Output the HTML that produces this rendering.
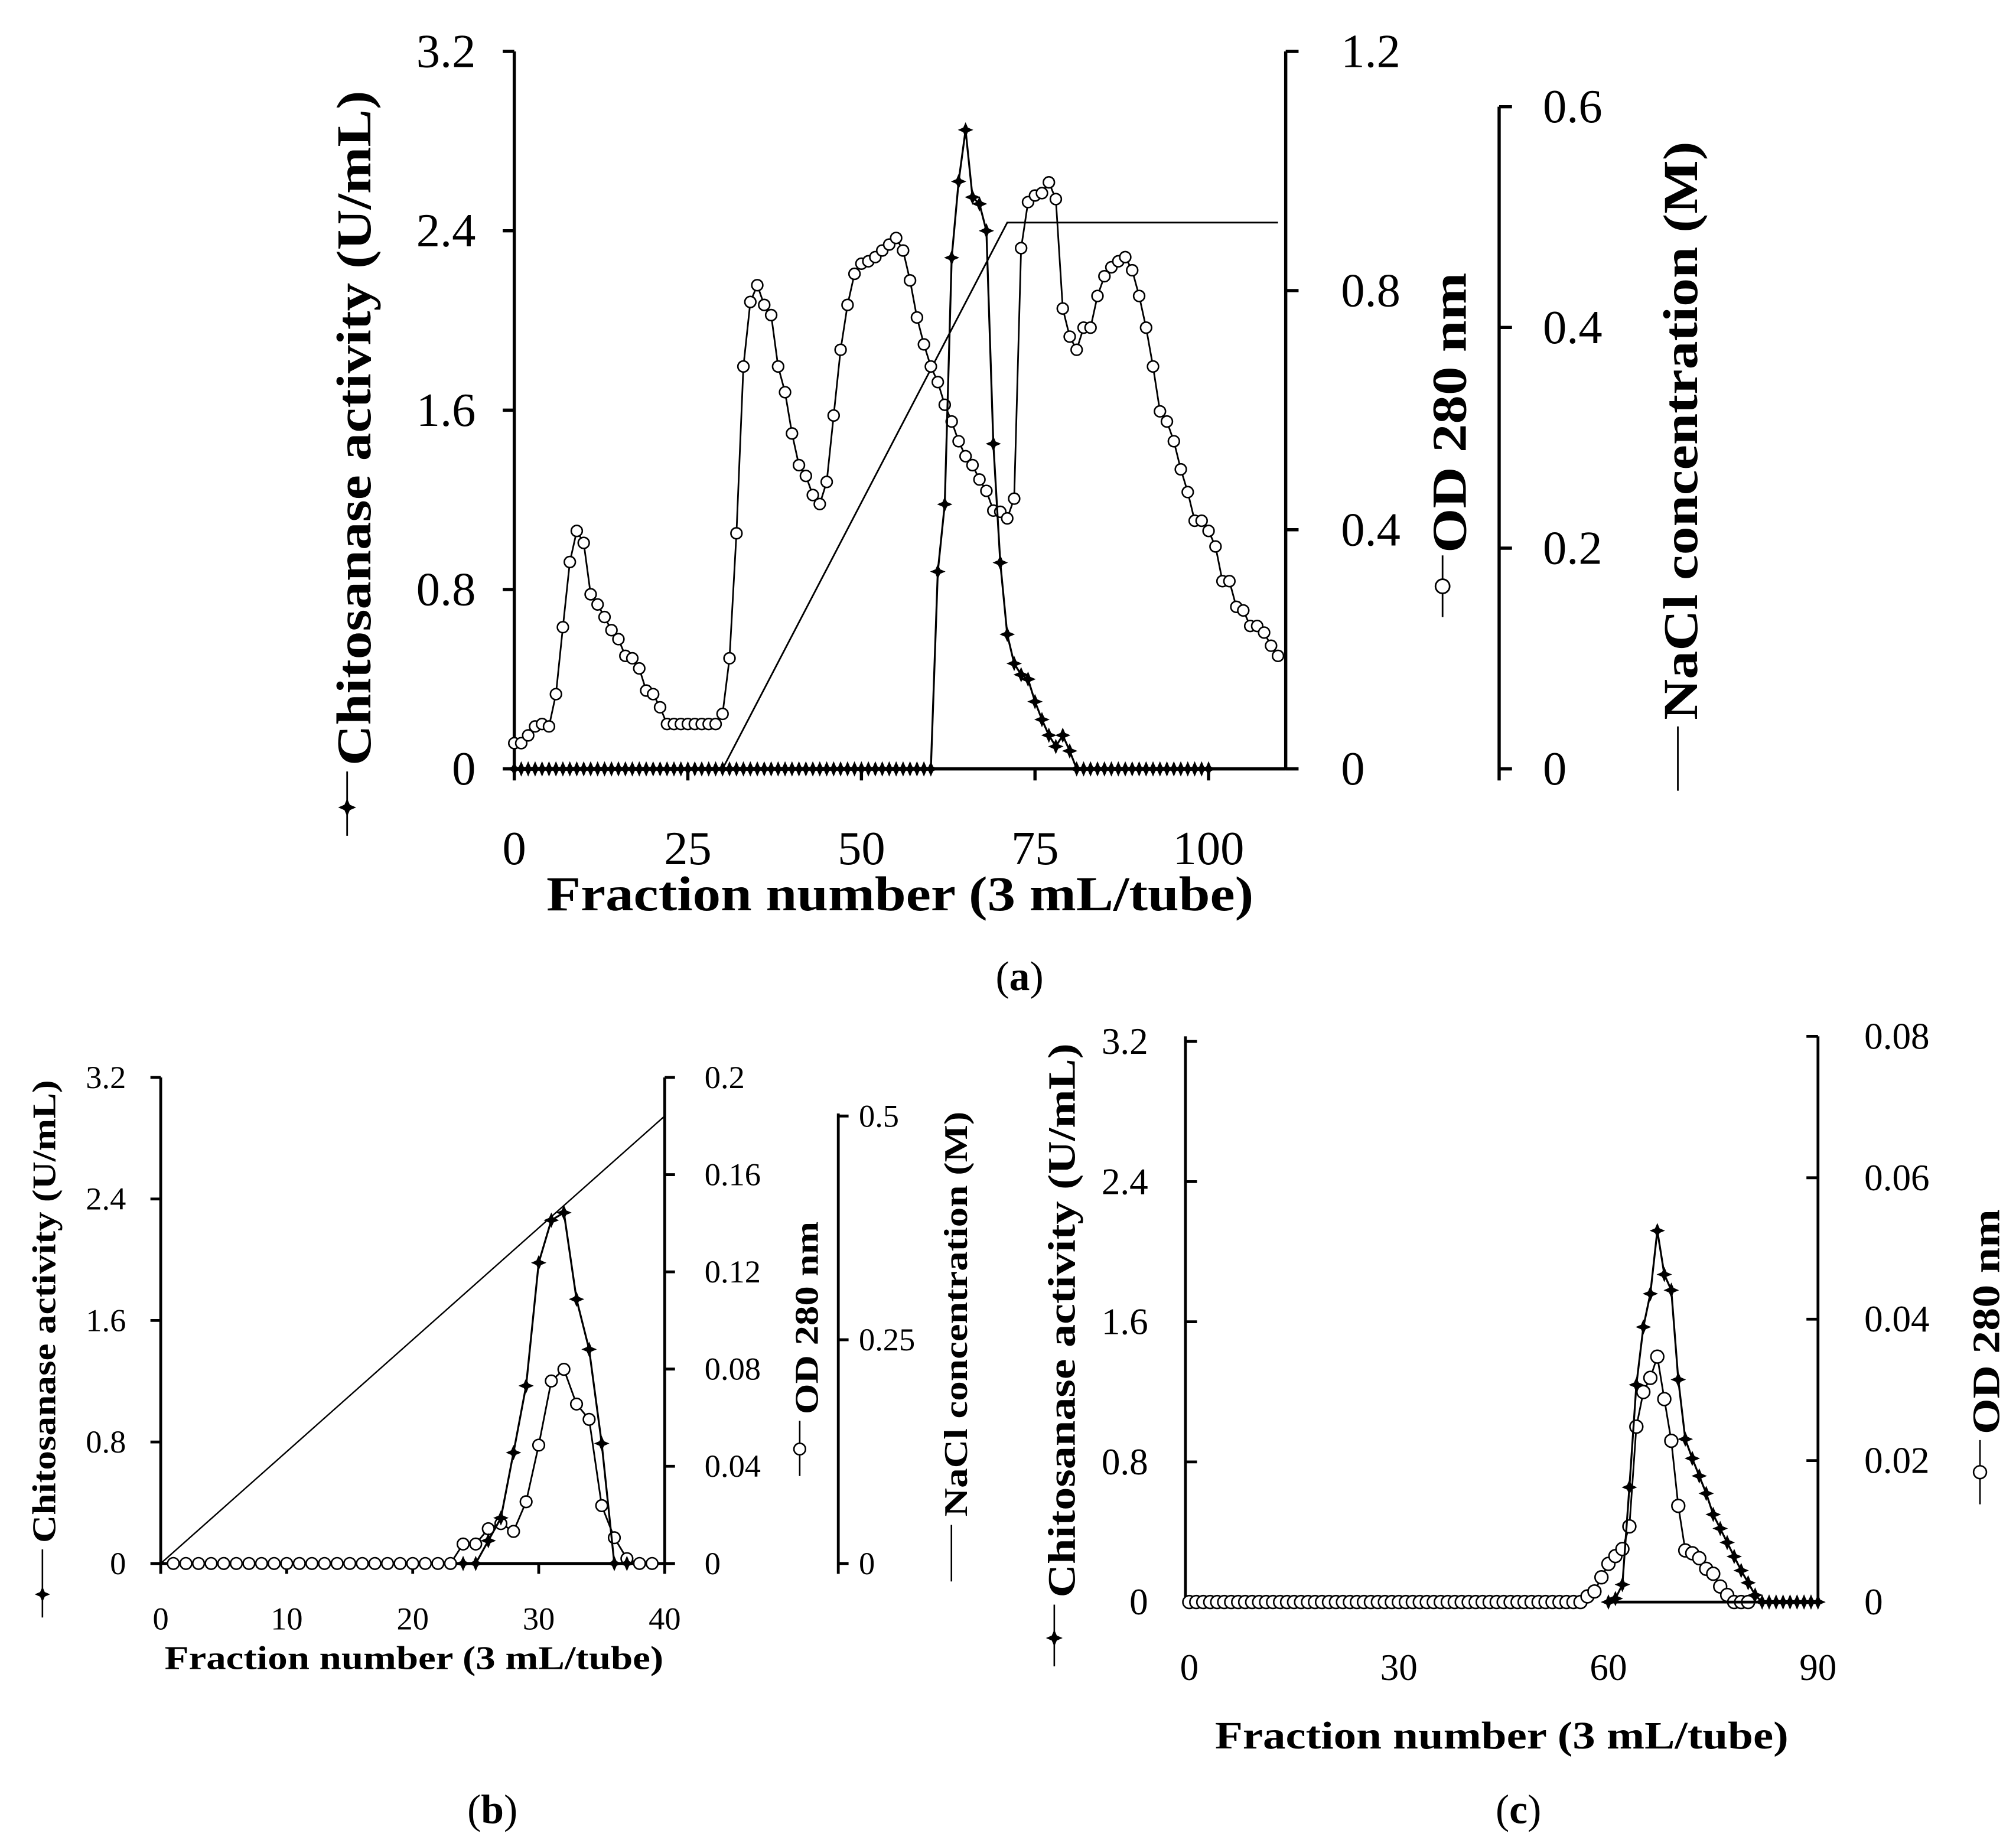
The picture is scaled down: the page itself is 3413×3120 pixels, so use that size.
<!DOCTYPE html>
<html><head><meta charset="utf-8"><style>
html,body{margin:0;padding:0;background:#fff}
svg{display:block}
text{font-family:"Liberation Serif",serif;fill:#000}
.b{font-weight:bold}
</style></head><body>
<svg id="fig" xmlns="http://www.w3.org/2000/svg" width="3413" height="3120" viewBox="0 0 1568 1433.4" preserveAspectRatio="none">
<g id="static">
<!-- Panel a titles -->
<text class="b" font-size="38" transform="translate(288,333) rotate(-90)" text-anchor="middle" textLength="525" lengthAdjust="spacingAndGlyphs">Chitosanase activity (U/mL)</text>
<text class="b" font-size="38" transform="translate(1140,321) rotate(-90)" text-anchor="middle" textLength="218" lengthAdjust="spacingAndGlyphs">OD 280 nm</text>
<text class="b" font-size="38" transform="translate(1320,335) rotate(-90)" text-anchor="middle" textLength="450" lengthAdjust="spacingAndGlyphs">NaCl concentration (M)</text>
<text class="b" font-size="38" x="700" y="708" text-anchor="middle" textLength="550" lengthAdjust="spacingAndGlyphs">Fraction number (3 mL/tube)</text>
<text font-size="32" x="793" y="770" text-anchor="middle">(<tspan class="b">a</tspan>)</text>
<!-- Panel b titles -->
<text class="b" font-size="26" transform="translate(43,1020) rotate(-90)" text-anchor="middle" textLength="360" lengthAdjust="spacingAndGlyphs">Chitosanase activity (U/mL)</text>
<text class="b" font-size="26" transform="translate(636,1025) rotate(-90)" text-anchor="middle" textLength="150" lengthAdjust="spacingAndGlyphs">OD 280 nm</text>
<text class="b" font-size="26" transform="translate(752,1022) rotate(-90)" text-anchor="middle" textLength="315" lengthAdjust="spacingAndGlyphs">NaCl concentration (M)</text>
<text class="b" font-size="26" x="322" y="1298" text-anchor="middle" textLength="388" lengthAdjust="spacingAndGlyphs">Fraction number (3 mL/tube)</text>
<text font-size="32" x="383" y="1418" text-anchor="middle">(<tspan class="b">b</tspan>)</text>
<!-- Panel c titles -->
<text class="b" font-size="30" transform="translate(836,1027) rotate(-90)" text-anchor="middle" textLength="431" lengthAdjust="spacingAndGlyphs">Chitosanase activity (U/mL)</text>
<text class="b" font-size="30" transform="translate(1555,1028) rotate(-90)" text-anchor="middle" textLength="175" lengthAdjust="spacingAndGlyphs">OD 280 nm</text>
<text class="b" font-size="30" x="1168" y="1360" text-anchor="middle" textLength="446" lengthAdjust="spacingAndGlyphs">Fraction number (3 mL/tube)</text>
<text font-size="32" x="1181" y="1418" text-anchor="middle">(<tspan class="b">c</tspan>)</text>
</g>
</svg>
<script>
// ---------- Panel (a) data ----------
const aFractions = [];
for (let i = 0; i <= 110; i++) aFractions.push(i);
const aActivity = [0,0,0,0,0,0,0,0,0,0, 0,0,0,0,0,0,0,0,0,0, 0,0,0,0,0,0,0,0,0,0,
 0,0,0,0,0,0,0,0,0,0, 0,0,0,0,0,0,0,0,0,0, 0,0,0,0,0,0,0,0,0,0,
 0,0.88,1.18,2.28,2.62,2.85,2.55,2.52,2.4,1.45, 0.92,0.6,0.47,0.42,0.4,0.3,0.22,0.15,0.1,0.15,
 0.08,0,0,0,0,0,0,0,0,0, 0,0,0,0,0,0,0,0,0,0, 0];
const aOD = [0.043,0.043,0.056,0.071,0.075,0.071,0.125,0.237,0.346,0.398,
 0.378,0.292,0.275,0.254,0.232,0.217,0.189,0.185,0.168,0.131,
 0.125,0.103,0.075,0.075,0.075,0.075,0.075,0.075,0.075,0.075,
 0.092,0.185,0.394,0.673,0.781,0.809,0.776,0.759,0.673,0.630,
 0.561,0.508,0.490,0.458,0.443,0.480,0.591,0.701,0.776,0.828,
 0.845,0.849,0.856,0.867,0.877,0.888,0.867,0.817,0.755,0.710,
 0.673,0.647,0.609,0.581,0.548,0.523,0.508,0.484,0.465,0.432,
 0.430,0.419,0.452,0.871,0.948,0.959,0.963,0.981,0.953,0.770,
 0.723,0.701,0.738,0.738,0.791,0.824,0.839,0.849,0.856,0.834,
 0.791,0.738,0.673,0.598,0.581,0.548,0.501,0.463,0.415,0.415,
 0.398,0.372,0.314,0.314,0.271,0.265,0.239,0.239,0.228,0.206,0.189];
const aSaltX = [30,71,110];
const aSaltY = [0,0.495,0.495];
const aXTicks = [0,25,50,75,100];
const aActTicks = ["0","0.8","1.6","2.4","3.2"];
const aODTicks = ["0","0.4","0.8","1.2"];
const aSaltTicks = ["0","0.2","0.4","0.6"];

// ---------- Panel (b) data ----------
const bActX = [24,25,26,27,28,29,30,31,32,33,34,35,36,37];
const bActivity = [0,0,0.15,0.3,0.73,1.17,1.98,2.26,2.31,1.74,1.41,0.79,0,0];
const bODX = [];
for (let i = 1; i <= 39; i++) bODX.push(i);
const bOD = [0,0,0,0,0,0,0,0,0,0, 0,0,0,0,0,0,0,0,0,0, 0,0,0,
 0.008,0.008,0.0143,0.0164,0.0132,0.0254,0.0487,0.0751,0.0799,0.0656,0.0593,0.0238,0.0106,0.002,0,0];
const bSaltX = [0,40];
const bSaltY = [0,0.5];
const bXTicks = [0,10,20,30,40];
const bActTicks = ["0","0.8","1.6","2.4","3.2"];
const bODTicks = ["0","0.04","0.08","0.12","0.16","0.2"];
const bSaltTicks = ["0","0.25","0.5"];

// ---------- Panel (c) data ----------
const cActX = [];
for (let i = 60; i <= 90; i++) cActX.push(i);
const cActivity = [0,0.02,0.1,0.655,1.24,1.57,1.76,2.12,1.87,1.78,
 1.27,0.93,0.82,0.72,0.62,0.5,0.42,0.34,0.26,0.18,
 0.11,0.04,0,0,0,0,0,0,0,0,0];
const cODX = [];
for (let i = 0; i <= 80; i++) cODX.push(i);
const cOD = [0,0,0,0,0,0,0,0,0,0, 0,0,0,0,0,0,0,0,0,0, 0,0,0,0,0,0,0,0,0,0,
 0,0,0,0,0,0,0,0,0,0, 0,0,0,0,0,0,0,0,0,0, 0,0,0,0,0,0,0,
 0.0008,0.0015,0.0035,0.0054,0.0065,0.0075,0.0107,0.0248,0.0297,0.0317,0.0347,0.0287,0.0228,0.0136,
 0.0073,0.0069,0.0062,0.0047,0.004,0.0022,0.001,0,0,0,0];
const cXTicks = [0,30,60,90];
const cActTicks = ["0","0.8","1.6","2.4","3.2"];
const cODTicks = ["0","0.02","0.04","0.06","0.08"];

const NS = "http://www.w3.org/2000/svg";
const svg = document.getElementById("fig");

function mk(tag, parent) {
  const e = document.createElementNS(NS, tag);
  (parent || svg).appendChild(e);
  return e;
}
function lin(d0, d1, r0, r1) { return v => r0 + (v - d0) * (r1 - r0) / (d1 - d0); }

function line(p, x1, y1, x2, y2, w, name) {
  const l = mk("line", p);
  l.setAttribute("x1", x1); l.setAttribute("y1", y1);
  l.setAttribute("x2", x2); l.setAttribute("y2", y2);
  l.setAttribute("stroke", "#000"); l.setAttribute("stroke-width", w);
  
  
  return l;
}
function label(p, x, y, str, size, anchor, name) {
  const t = mk("text", p);
  t.setAttribute("x", x); t.setAttribute("y", y);
  t.setAttribute("font-size", size);
  t.setAttribute("text-anchor", anchor);
  t.setAttribute("dominant-baseline", "central");
  t.textContent = str;
  
  
  return t;
}
function polyline(p, xs, ys, sx, sy, w, name) {
  const pl = mk("polyline", p);
  pl.setAttribute("points", xs.map((x, i) => sx(x).toFixed(2) + "," + sy(ys[i]).toFixed(2)).join(" "));
  pl.setAttribute("fill", "none"); pl.setAttribute("stroke", "#000");
  pl.setAttribute("stroke-width", w);
  
  
  return pl;
}
function diamondPath(cx, cy, s) {
  const k = s * 0.3;
  return "M" + cx + "," + (cy - s) + " L" + (cx + k) + "," + (cy - k) + " L" + (cx + s) + "," + cy +
    " L" + (cx + k) + "," + (cy + k) + " L" + cx + "," + (cy + s) + " L" + (cx - k) + "," + (cy + k) +
    " L" + (cx - s) + "," + cy + " L" + (cx - k) + "," + (cy - k) + "Z";
}
function diamond(p, cx, cy, s, name) {
  const d = mk("path", p);
  d.setAttribute("d", diamondPath(cx, cy, s));
  d.setAttribute("fill", "#000");
  
  
  return d;
}
function circle(p, cx, cy, r, w, name) {
  const c = mk("circle", p);
  c.setAttribute("cx", cx); c.setAttribute("cy", cy); c.setAttribute("r", r);
  c.setAttribute("fill", "#fff"); c.setAttribute("stroke", "#000");
  c.setAttribute("stroke-width", w);
  
  
  return c;
}
function group(name) {
  const g = mk("g");
  
  
  return g;
}

// ================= Panel (a) =================
(function () {
  const g = group("panel-a");
  const x = lin(0, 100, 400, 940);
  const yA = lin(0, 3.2, 598, 40);
  const yO = lin(0, 1.2, 598, 40);
  const yS = lin(0, 0.6, 598, 83);
  // axes
  line(g, 400, 40, 400, 599, 2.5, "a-left-axis");
  line(g, 1000, 40, 1000, 599, 2.5, "a-od-axis");
  line(g, 1166, 83, 1166, 607, 2.5, "a-nacl-axis");
  aActTicks.forEach((t, i) => {
    const v = parseFloat(t);
    line(g, 391, yA(v), 400, yA(v), 2.5, "a-left-tick");
    label(g, 370, yA(v), t, 37, "end", "a-left-tick-label");
  });
  aODTicks.forEach(t => {
    const v = parseFloat(t);
    line(g, 1000, yO(v), 1010, yO(v), 2.5, "a-od-tick");
    label(g, 1043, yO(v), t, 37, "start", "a-od-tick-label");
  });
  aSaltTicks.forEach(t => {
    const v = parseFloat(t);
    line(g, 1166, yS(v), 1176, yS(v), 2.5, "a-nacl-tick");
    label(g, 1200, yS(v), t, 37, "start", "a-nacl-tick-label");
  });
  aXTicks.forEach(t => {
    line(g, x(t), 598, x(t), 607, 2.5, "a-x-tick");
    label(g, x(t), 660, String(t), 37, "middle", "a-x-tick-label");
  });
  // NaCl gradient
  polyline(g, aSaltX, aSaltY, x, yS, 1.3, "a-nacl-line");
  // OD
  polyline(g, aFractions, aOD, x, yO, 1.3, "a-od-line");
  aFractions.forEach((f, i) => circle(g, x(f), yO(aOD[i]), 4.3, 1.2, "a-od-point"));
  // activity
  polyline(g, aFractions, aActivity, x, yA, 1.5, "a-activity-line");
  line(g, 400, 598, 1000, 598, 2.5, "a-x-axis");
  aFractions.forEach((f, i) => diamond(g, x(f), yA(aActivity[i]), 6, "a-activity-point"));
  // title markers
  line(g, 270, 600, 270, 650, 1.3, "a-activity-legend-line");
  diamond(g, 270, 628, 7, "a-activity-legend-marker");
  line(g, 1122, 432, 1122, 480, 1.3, "a-od-legend-line");
  circle(g, 1122, 456, 5.5, 1.3, "a-od-legend-marker");
  line(g, 1305, 565, 1305, 615, 1.3, "a-nacl-legend-line");
})();

// ================= Panel (b) =================
(function () {
  const g = group("panel-b");
  const x = lin(0, 40, 125, 517);
  const yA = lin(0, 3.2, 1216, 838);
  const yO = lin(0, 0.2, 1216, 838);
  const yS = lin(0, 0.5, 1216, 868);
  line(g, 125, 838, 125, 1217, 2.2, "b-left-axis");
  line(g, 517, 838, 517, 1217, 2.2, "b-od-axis");
  line(g, 652, 866, 652, 1224, 2.2, "b-nacl-axis");
  bActTicks.forEach(t => {
    const v = parseFloat(t);
    line(g, 117, yA(v), 125, yA(v), 2.2, "b-left-tick");
    label(g, 98, yA(v), t, 25, "end", "b-left-tick-label");
  });
  bODTicks.forEach(t => {
    const v = parseFloat(t);
    line(g, 517, yO(v), 525, yO(v), 2.2, "b-od-tick");
    label(g, 548, yO(v), t, 25, "start", "b-od-tick-label");
  });
  bSaltTicks.forEach(t => {
    const v = parseFloat(t);
    line(g, 652, yS(v), 660, yS(v), 2.2, "b-nacl-tick");
    label(g, 668, yS(v), t, 25, "start", "b-nacl-tick-label");
  });
  bXTicks.forEach(t => {
    line(g, x(t), 1216, x(t), 1224, 2.2, "b-x-tick");
    label(g, x(t), 1259, String(t), 25, "middle", "b-x-tick-label");
  });
  polyline(g, bSaltX, bSaltY, x, yS, 1.1, "b-nacl-line");
  polyline(g, bODX, bOD, x, yO, 1.3, "b-od-line");
  line(g, 125, 1216, 517, 1216, 2.2, "b-x-axis");
  bODX.forEach((f, i) => circle(g, x(f), yO(bOD[i]), 4.5, 1.2, "b-od-point"));
  polyline(g, bActX, bActivity, x, yA, 1.5, "b-activity-line");
  bActX.forEach((f, i) => diamond(g, x(f), yA(bActivity[i]), 6, "b-activity-point"));
  line(g, 33, 1205, 33, 1258, 1.2, "b-activity-legend-line");
  diamond(g, 33, 1240, 6, "b-activity-legend-marker");
  line(g, 622, 1105, 622, 1148, 1.2, "b-od-legend-line");
  circle(g, 622, 1127, 4.5, 1.2, "b-od-legend-marker");
  line(g, 740, 1186, 740, 1230, 1.2, "b-nacl-legend-line");
})();

// ================= Panel (c) =================
(function () {
  const g = group("panel-c");
  const x = lin(0, 90, 925, 1414);
  const yA = lin(0, 3.2, 1246, 810);
  const yO = lin(0, 0.08, 1246, 806);
  line(g, 922, 806, 922, 1247, 2.2, "c-left-axis");
  line(g, 1414, 806, 1414, 1247, 2.2, "c-od-axis");
  cActTicks.forEach(t => {
    const v = parseFloat(t);
    line(g, 922, yA(v), 931, yA(v), 2.2, "c-left-tick");
    label(g, 893, yA(v), t, 29, "end", "c-left-tick-label");
  });
  cODTicks.forEach(t => {
    const v = parseFloat(t);
    line(g, 1405, yO(v), 1414, yO(v), 2.2, "c-od-tick");
    label(g, 1450, yO(v), t, 29, "start", "c-od-tick-label");
  });
  cXTicks.forEach(t => {
    label(g, x(t), 1297, String(t), 29, "middle", "c-x-tick-label");
  });
  polyline(g, cODX, cOD, x, yO, 1.3, "c-od-line");
  cODX.forEach((f, i) => circle(g, x(f), yO(cOD[i]), 5, 1.2, "c-od-point"));
  polyline(g, cActX, cActivity, x, yA, 1.5, "c-activity-line");
  line(g, 1251, 1246, 1414, 1246, 2.2, "c-x-axis");
  cActX.forEach((f, i) => diamond(g, x(f), yA(cActivity[i]), 6, "c-activity-point"));
  line(g, 820, 1248, 820, 1296, 1.2, "c-activity-legend-line");
  diamond(g, 820, 1274, 6.5, "c-activity-legend-marker");
  line(g, 1540, 1120, 1540, 1170, 1.2, "c-od-legend-line");
  circle(g, 1540, 1145, 5, 1.2, "c-od-legend-marker");
})();
</script>
</body></html>
